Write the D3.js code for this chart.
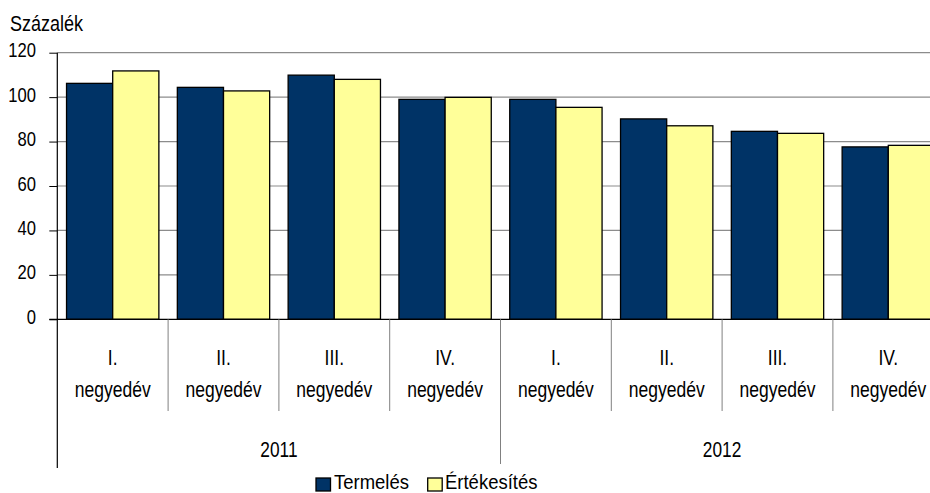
<!DOCTYPE html>
<html>
<head>
<meta charset="utf-8">
<script src="https://cdn.jsdelivr.net/npm/d3@7"></script>
<style>
  html, body { margin: 0; padding: 0; background: #fff; }
  svg { display: block; font-family: "Liberation Sans", Arial, sans-serif; }
</style>
</head>
<body>
<svg id="chart" width="930" height="493"></svg>
<script>
const quarters = ["I.", "II.", "III.", "IV.", "I.", "II.", "III.", "IV."];
const years = ["2011", "2012"];
const seriesNames = ["Termelés", "Értékesítés"];
const termeles = [106.2, 104.4, 109.9, 99.0, 99.0, 90.2, 84.6, 77.6];
const ertekesites = [111.8, 102.8, 108.0, 99.9, 95.4, 87.1, 83.7, 78.3];
const yTicks = [0, 20, 40, 60, 80, 100, 120];
const colors = ["#003366", "#FFFF99"];

const svg = d3.select("#chart");
const W = 930, H = 493;
const pLeft = 57.3, pRight = 943.7, pTop = 52.7, pBottom = 319.3;
const STRETCH = 1.27;

// text helper: vertically stretched text, baseline at (x, y)
function addText(parent, x, y, str, size, anchor, stretch) {
  const g = parent.append("g").attr("transform", `translate(${x},${y})`);
  g.append("text").attr("transform", `scale(1,${stretch || STRETCH})`)
    .attr("font-size", size).attr("fill", "#000")
    .attr("text-anchor", anchor || "start").text(str);
  return g;
}

const cats = d3.range(quarters.length);
const x = d3.scaleBand().domain(cats).range([pLeft, pRight]).padding(0);
const x1 = d3.scaleBand().domain(seriesNames).range([0, x.bandwidth()])
  .paddingInner(0).paddingOuter(0.2);
const y = d3.scaleLinear().domain([0, 120]).range([pBottom, pTop]);

// gridlines
svg.append("g").selectAll("line").data(yTicks.filter(d => d > 0)).join("line")
  .attr("x1", pLeft).attr("x2", W)
  .attr("y1", d => y(d)).attr("y2", d => y(d))
  .attr("stroke", "#8c8c8c").attr("stroke-width", 1.2);

// bars
const data = cats.map(i => ({ i, vals: [termeles[i], ertekesites[i]] }));
const g = svg.append("g").selectAll("g").data(data).join("g")
  .attr("transform", d => `translate(${x(d.i)},0)`);
g.selectAll("rect").data(d => d.vals.map((v, k) => ({ v, k }))).join("rect")
  .attr("x", d => x1(seriesNames[d.k]))
  .attr("width", x1.bandwidth())
  .attr("y", d => y(d.v))
  .attr("height", d => y(0) - y(d.v))
  .attr("fill", d => colors[d.k])
  .attr("stroke", "#000").attr("stroke-width", 1.3);

// y axis (ticks via d3 axis, labels stretched)
const yAxis = d3.axisLeft(y).tickValues(yTicks).tickSize(8).tickFormat("");
const ya = svg.append("g").attr("transform", `translate(${pLeft},0)`).call(yAxis);
ya.select(".domain").remove();
ya.selectAll(".tick line").attr("stroke", "#000");
const yl = svg.append("g");
yTicks.forEach(t => addText(yl, 36, y(t) + 4.5, String(t), 16.6, "end"));

svg.append("line").attr("x1", pLeft).attr("x2", pLeft).attr("y1", pTop).attr("y2", 468)
  .attr("stroke", "#000").attr("stroke-width", 1.2);
// baseline
svg.append("line").attr("x1", pLeft - 8).attr("x2", W).attr("y1", y(0)).attr("y2", y(0))
  .attr("stroke", "#000").attr("stroke-width", 1.2);

// category dividers
svg.append("g").selectAll("line").data(cats.slice(1)).join("line")
  .attr("x1", d => x(d)).attr("x2", d => x(d))
  .attr("y1", y(0)).attr("y2", d => d === 4 ? 464 : 411)
  .attr("stroke", "#808080").attr("stroke-width", 1);

// category labels
const lab = svg.append("g");
cats.forEach(i => {
  const cx = x(i) + x.bandwidth() / 2;
  addText(lab, cx, 365, quarters[i], 17.5, "middle");
  addText(lab, cx, 397, "negyedév", 17.5, "middle");
});
years.forEach((yr, i) => {
  const cx = (x(i * 4) + x(i * 4 + 3) + x.bandwidth()) / 2;
  addText(lab, cx, 456.5, yr, 17.3, "middle");
});

// unit label
addText(svg, 10, 31, "Százalék", 18, "start");

// legend
const legX = [316, 427.7];
const legTextX = [334, 445];
seriesNames.forEach((s, i) => {
  svg.append("rect").attr("x", legX[i]).attr("y", 478).attr("width", 14.5).attr("height", 13)
    .attr("fill", colors[i]).attr("stroke", "#000").attr("stroke-width", 1.3);
  addText(svg, legTextX[i], 488.5, s, 18.5, "start", 1.12);
});
</script>
</body>
</html>
